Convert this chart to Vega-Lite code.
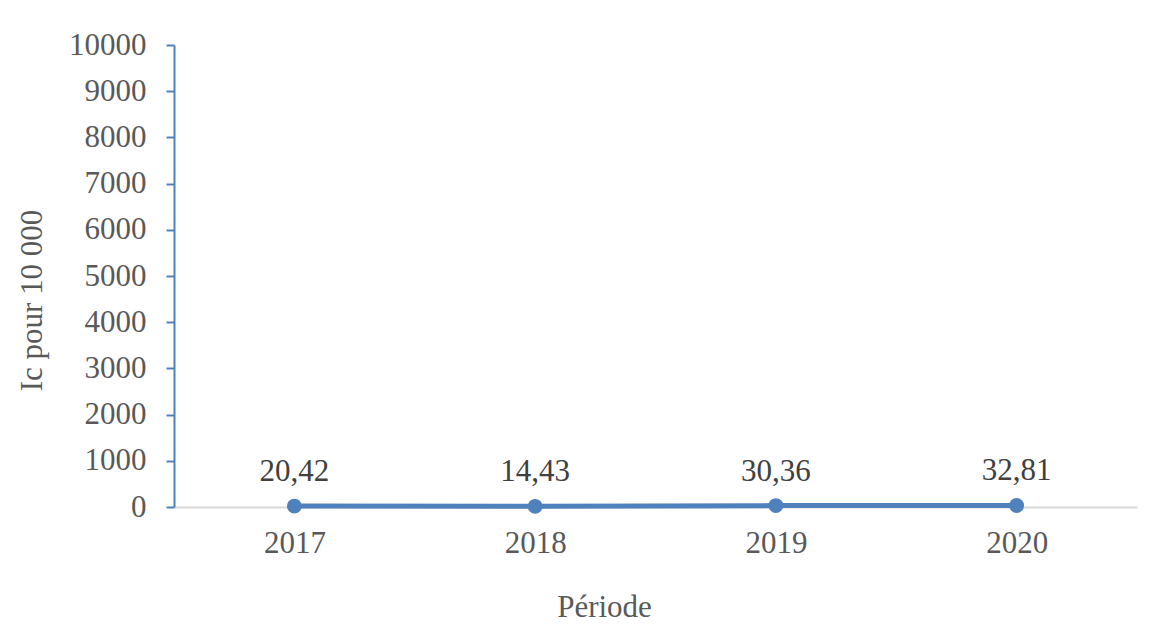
{
  "$schema": "https://vega.github.io/schema/vega-lite/v6.json",
  "width": 963,
  "height": 462,
  "autosize": {"type": "none"},
  "padding": {"left": 174, "top": 45, "right": 13, "bottom": 121},
  "background": "white",
  "config": {
    "view": {"stroke": null},
    "font": "Liberation Serif",
    "locale": {"number": {"decimal": ",", "thousands": " ", "grouping": [3], "currency": ["", " €"]}}
  },
  "data": {"values": [
    {"annee": "2017", "ic": 20.42},
    {"annee": "2018", "ic": 14.43},
    {"annee": "2019", "ic": 30.36},
    {"annee": "2020", "ic": 32.81}
  ]},
  "encoding": {
    "x": {
      "field": "annee", "type": "ordinal",
      "scale": {"paddingInner": 0, "paddingOuter": 0},
      "axis": {
        "title": "Période", "labelAngle": 0, "ticks": false,
        "domainColor": "#d9d9d9", "domainWidth": 2,
        "labelColor": "#595959", "labelFontSize": 31, "labelFont": "Liberation Serif",
        "labelPadding": 21,
        "titleColor": "#595959", "titleFontSize": 31, "titleFont": "Liberation Serif", "titleFontWeight": "normal",
        "titleX": 430, "titleY": 100, "titleBaseline": "middle"
      }
    },
    "y": {
      "field": "ic", "type": "quantitative",
      "scale": {"domain": [0, 10000]},
      "axis": {
        "title": "Ic pour 10 000", "format": "d", "values": [0,1000,2000,3000,4000,5000,6000,7000,8000,9000,10000],
        "grid": false, "domainColor": "#4F81BD", "domainWidth": 2,
        "tickColor": "#4F81BD", "tickSize": 8, "tickWidth": 2,
        "labelColor": "#595959", "labelFontSize": 31, "labelFont": "Liberation Serif",
        "labelPadding": 20,
        "titleColor": "#595959", "titleFontSize": 31, "titleFont": "Liberation Serif", "titleFontWeight": "normal",
        "titleX": -142, "titleY": 255, "titleBaseline": "middle", "titleAngle": -90, "titleAlign": "center"
      }
    }
  },
  "layer": [
    {"mark": {"type": "line", "color": "#4F81BD", "strokeWidth": 5}},
    {"mark": {"type": "point", "filled": true, "color": "#4F81BD", "size": 220, "opacity": 1}},
    {"mark": {"type": "text", "dy": -34, "baseline": "middle", "fontSize": 31, "color": "#404040", "font": "Liberation Serif"},
     "encoding": {"text": {"field": "ic", "type": "quantitative", "format": ".2f"}}}
  ]
}
